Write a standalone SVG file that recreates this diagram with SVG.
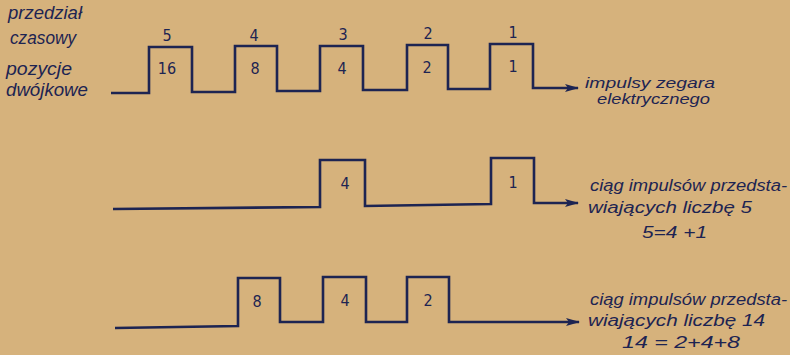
<svg xmlns="http://www.w3.org/2000/svg" width="790" height="355" viewBox="0 0 790 355">
<defs>
<style>
.bg{fill:#d6b27c}
.w{fill:none;stroke:#1d2452;stroke-width:2.6;stroke-linejoin:miter}
.lbl{font-family:"Liberation Sans","DejaVu Sans",sans-serif;font-style:italic;font-size:18px;fill:#1d2452}
.rt{font-family:"Liberation Sans","DejaVu Sans",sans-serif;font-style:italic;font-size:16px;fill:#1d2452}
.rs{font-family:"Liberation Sans","DejaVu Sans",sans-serif;font-style:italic;font-size:14px;fill:#1d2452}
.num{font-family:"DejaVu Sans Condensed","Liberation Sans",sans-serif;font-size:16px;fill:#1d2452;text-anchor:middle}
</style>
<marker id="ah" markerWidth="14" markerHeight="8" refX="13" refY="4" orient="auto" markerUnits="userSpaceOnUse">
<path d="M0,0 L14,4 L0,8 L3,4 Z" fill="#1d2452"/>
</marker>
</defs>
<rect class="bg" x="0" y="0" width="790" height="355"/>

<g id="labels-left">
<text class="lbl" x="8" y="19" textLength="74" lengthAdjust="spacingAndGlyphs">przedział</text>
<text class="lbl" x="10" y="44" textLength="66" lengthAdjust="spacingAndGlyphs">czasowy</text>
<text class="lbl" x="6" y="75" textLength="66" lengthAdjust="spacingAndGlyphs">pozycje</text>
<text class="lbl" x="6" y="96" textLength="82" lengthAdjust="spacingAndGlyphs">dwójkowe</text>
</g>

<g id="connectors">
<polyline class="w" marker-end="url(#ah)" points="111,93 149,93 149,47 192,47 192,92 235,92 235,46 277,46 277,91 320,91 320,46 363,46 363,90 407,90 407,45 448,45 448,89 490,89 490,44 533,44 533,88 578,88"/>
<polyline class="w" marker-end="url(#ah)" points="113,209 320,207 320,160 365,160 365,206 491,204 491,158 534,158 534,203 578,203"/>
<polyline class="w" marker-end="url(#ah)" points="115,328 238,326 238,278 280,278 280,322 323,322 323,277 366,277 366,322 407,322 407,277 449,277 449,322 579,322"/>
</g>

<g id="row1-clock">
<text class="num" x="167" y="41">5</text>
<text class="num" x="254" y="41">4</text>
<text class="num" x="343" y="40">3</text>
<text class="num" x="428" y="39">2</text>
<text class="num" x="513" y="38">1</text>
<text class="num" x="167" y="74">16</text>
<text class="num" x="255" y="74">8</text>
<text class="num" x="342" y="74">4</text>
<text class="num" x="427" y="73">2</text>
<text class="num" x="513" y="72">1</text>
<text class="rs" x="585" y="88" textLength="130" lengthAdjust="spacingAndGlyphs">impulsy zegara</text>
<text class="rs" x="597" y="104" textLength="113" lengthAdjust="spacingAndGlyphs">elektrycznego</text>
</g>

<g id="row2-number5">
<text class="num" x="345" y="189">4</text>
<text class="num" x="513" y="188">1</text>
<text class="rt" x="590" y="191" textLength="197" lengthAdjust="spacingAndGlyphs">ciąg impulsów przedsta-</text>
<text class="rt" x="588" y="213" textLength="164" lengthAdjust="spacingAndGlyphs">wiających  liczbę  5</text>
<text class="rt" x="642" y="238" textLength="65" lengthAdjust="spacingAndGlyphs">5=4 +1</text>
</g>

<g id="row3-number14">
<text class="num" x="257" y="307">8</text>
<text class="num" x="345" y="306">4</text>
<text class="num" x="428" y="306">2</text>
<text class="rt" x="590" y="305" textLength="197" lengthAdjust="spacingAndGlyphs">ciąg impulsów przedsta-</text>
<text class="rt" x="588" y="326" textLength="177" lengthAdjust="spacingAndGlyphs">wiających  liczbę  14</text>
<text class="rt" x="622" y="348" textLength="118" lengthAdjust="spacingAndGlyphs">14 =  2+4+8</text>
</g>
</svg>
